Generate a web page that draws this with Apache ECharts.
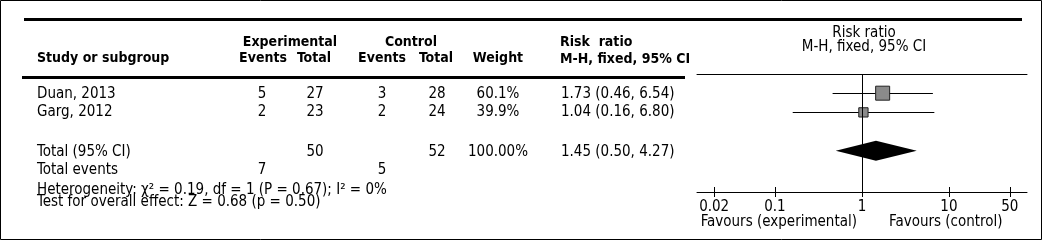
<!DOCTYPE html>
<html>
<head>
<meta charset="utf-8">
<script src="https://cdn.jsdelivr.net/npm/echarts@6/dist/echarts.min.js"></script>
<style>
  html, body { margin: 0; padding: 0; background: #fff; }
  #chart { width: 1043px; height: 241px; }
</style>
</head>
<body>
<div id="chart"></div>
<script>
const studies = ["Duan, 2013", "Garg, 2012"];
const expEvents = [5, 2];
const expTotal = [27, 23];
const ctrlEvents = [3, 2];
const ctrlTotal = [28, 24];
const weights = [60.1, 39.9];
const riskRatio = [1.73, 1.04];
const ciLow = [0.46, 0.16];
const ciHigh = [6.54, 6.8];
const studyRows = [1, 2];

const totalRow = 4;
const totalExp = [7, 50];
const totalCtrl = [5, 52];
const totalWeight = "100.00%";
const pooled = [1.45, 0.5, 4.27]; // rr, low, high

const xTicks = [0.02, 0.1, 1, 10, 50];
const heterogeneity = "Heterogeneity: \u03c7\u00b2 = 0.19, df = 1 (P = 0.67); I\u00b2 = 0%";
const overallEffect = "Test for overall effect: Z = 0.68 (p = 0.50)";

const FONT = '"DejaVu Sans Condensed", "DejaVu Sans", sans-serif';
const body = "15px " + FONT;
const bold = "bold 14px " + FONT;
const ROW_MAX = 6.15;

const chart = echarts.init(document.getElementById("chart"));

const fmt = (v) => v.toFixed(2);
const txt = (x, y, text, font, align) => ({
  type: "text",
  silent: true,
  style: { x, y, text, font, fill: "#000", align: align || "center", verticalAlign: "middle" },
});

const cols = { expEv: 262, expTot: 315, ctlEv: 382, ctlTot: 437, weight: 498, rr: 561 };
const rowY = [94, 112];

const graphics = [
  // frame and rules
  { type: "rect", silent: true, shape: { x: 0.5, y: 0.5, width: 1041, height: 239 },
    style: { fill: null, stroke: "#000", lineWidth: 1 } },
  { type: "rect", silent: true, shape: { x: 24, y: 18, width: 998, height: 3 }, style: { fill: "#000" } },
  { type: "rect", silent: true, shape: { x: 22, y: 76, width: 663, height: 3 }, style: { fill: "#000" } },

  // left header
  txt(37, 58, "Study or subgroup", bold, "left"),
  txt(290, 42, "Experimental", bold),
  txt(263, 58, "Events", bold),
  txt(314, 58, "Total", bold),
  txt(411, 42, "Control", bold),
  txt(382, 58, "Events", bold),
  txt(436, 58, "Total", bold),
  txt(498, 58, "Weight", bold),
  txt(560, 42, "Risk  ratio", bold, "left"),
  txt(560, 59, "M-H, fixed, 95% CI", bold, "left"),

  // right header
  txt(864, 33, "Risk ratio", body),
  txt(864, 47, "M-H, fixed, 95% CI", body),

  // totals
  txt(37, 152, "Total (95% CI)", body, "left"),
  txt(cols.expTot, 152, String(totalExp[1]), body),
  txt(cols.ctlTot, 152, String(totalCtrl[1]), body),
  txt(cols.weight, 152, totalWeight, body),
  txt(cols.rr, 152, fmt(pooled[0]) + " (" + fmt(pooled[1]) + ", " + fmt(pooled[2]) + ")", body, "left"),
  txt(37, 170, "Total events", body, "left"),
  txt(cols.expEv, 170, String(totalExp[0]), body),
  txt(cols.ctlEv, 170, String(totalCtrl[0]), body),
  txt(37, 190, heterogeneity, body, "left"),
  txt(37, 202, overallEffect, body, "left"),

  // favours
  txt(857, 222, "Favours (experimental)", body, "right"),
  txt(889, 222, "Favours (control)", body, "left"),
];

studies.forEach((s, i) => {
  const y = rowY[i];
  graphics.push(
    txt(37, y, s, body, "left"),
    txt(cols.expEv, y, String(expEvents[i]), body),
    txt(cols.expTot, y, String(expTotal[i]), body),
    txt(cols.ctlEv, y, String(ctrlEvents[i]), body),
    txt(cols.ctlTot, y, String(ctrlTotal[i]), body),
    txt(cols.weight, y, weights[i].toFixed(1) + "%", body),
    txt(cols.rr, y, fmt(riskRatio[i]) + " (" + fmt(ciLow[i]) + ", " + fmt(ciHigh[i]) + ")", body, "left")
  );
});

const logAxis = {
  type: "log",
  logBase: 10,
  min: 0.0127,
  max: 79,
  splitLine: { show: false },
};

const option = {
  animation: false,
  backgroundColor: "#fff",
  grid: { left: 697, right: 16, top: 74, bottom: 49 },
  xAxis: [
    {
      ...logAxis,
      position: "bottom",
      axisLine: { onZero: false, lineStyle: { color: "#000", width: 1 } },
      axisTick: { show: false },
      axisLabel: {
        color: "#000",
        fontFamily: FONT,
        fontSize: 15,
        margin: 8,
        customValues: xTicks,
        formatter: (v) => String(v),
      },
    },
    {
      ...logAxis,
      position: "top",
      axisLine: { onZero: false, lineStyle: { color: "#000", width: 1 } },
      axisTick: { show: false },
      axisLabel: { show: false },
    },
  ],
  yAxis: { type: "value", min: 0, max: ROW_MAX, inverse: true, show: false, splitLine: { show: false } },
  series: [
    {
      // tick marks crossing the bottom axis line
      type: "custom",
      name: "ticks",
      silent: true,
      clip: false,
      data: xTicks.map((v) => [v, ROW_MAX]),
      renderItem: (params, api) => {
        const p = api.coord([api.value(0), api.value(1)]);
        const x = Math.round(p[0]) + 0.5;
        return {
          type: "line",
          shape: { x1: x, y1: p[1] - 5, x2: x, y2: p[1] + 5 },
          style: { stroke: "#000", lineWidth: 1 },
        };
      },
      z: 1,
    },
    {
      type: "custom",
      name: "ci",
      data: studies.map((s, i) => [ciLow[i], ciHigh[i], studyRows[i]]),
      renderItem: (params, api) => {
        const a = api.coord([api.value(0), api.value(2)]);
        const b = api.coord([api.value(1), api.value(2)]);
        const y = Math.round(a[1]) + 0.5;
        return {
          type: "line",
          shape: { x1: a[0], y1: y, x2: b[0], y2: y },
          style: { stroke: "#000", lineWidth: 1 },
        };
      },
      markLine: {
        silent: true,
        symbol: "none",
        label: { show: false },
        lineStyle: { color: "#000", width: 1, type: "solid" },
        data: [{ xAxis: 1 }],
      },
      z: 2,
    },
    {
      type: "scatter",
      name: "studies",
      symbol: "rect",
      data: studies.map((s, i) => [riskRatio[i], studyRows[i], weights[i]]),
      symbolSize: (v) => 14 * v[2] / 60.1,
      itemStyle: { color: "#8a8a8a", borderColor: "#222", borderWidth: 1, opacity: 1 },
      z: 3,
    },
    {
      type: "custom",
      name: "pooled",
      data: [[pooled[0], pooled[1], pooled[2], totalRow]],
      renderItem: (params, api) => {
        const y = api.value(3);
        const c = api.coord([api.value(0), y]);
        const l = api.coord([api.value(1), y]);
        const r = api.coord([api.value(2), y]);
        const h = 10;
        return {
          type: "polygon",
          shape: { points: [[l[0], c[1]], [c[0], c[1] - h], [r[0], c[1]], [c[0], c[1] + h]] },
          style: { fill: "#000" },
        };
      },
      z: 3,
    },
  ],
  graphic: graphics,
};

chart.setOption(option);
</script>
</body>
</html>
